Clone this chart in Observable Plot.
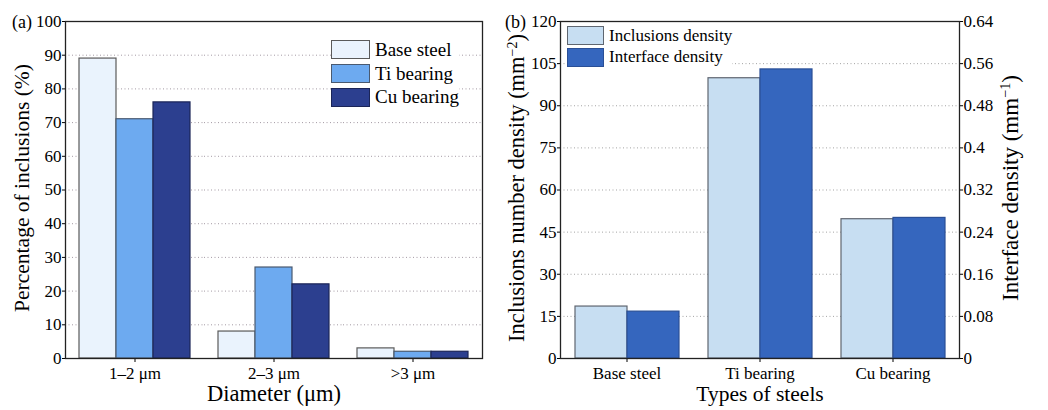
<!DOCTYPE html>
<html><head><meta charset="utf-8">
<script src="https://cdn.jsdelivr.net/npm/d3@7"></script>
<script src="https://cdn.jsdelivr.net/npm/@observablehq/plot@0.6"></script>
<style>
body{margin:0;background:#fff;font-family:"Liberation Serif","Times New Roman","DejaVu Serif",serif;}
#wrap{position:relative;width:1048px;height:410px;overflow:hidden;}
.panel{position:absolute;top:0;}
.legend{position:absolute;color:#000;background:#fff;}
.legend .row{display:flex;align-items:center;}
.sw{box-sizing:border-box;border:1.3px solid #555;margin-right:5px;}
</style></head><body><div id="wrap"></div>
<script>
// ---- Panel (a) data
const diameters = ["1–2 μm", "2–3 μm", ">3 μm"];
const seriesA = ["Base steel", "Ti bearing", "Cu bearing"];
const baseSteel = [89, 8, 3];
const tiBearing = [71, 27, 2];
const cuBearing = [76, 22, 2];
const percentTicks = [0, 10, 20, 30, 40, 50, 60, 70, 80, 90, 100];
const colorsA = ["#EAF3FD", "#6DAAF0", "#2C3F8F"];
const strokesA = ["#5a5a5a", "#4a5a70", "#1b2558"];

// ---- Panel (b) data
const steels = ["Base steel", "Ti bearing", "Cu bearing"];
const seriesB = ["Inclusions density", "Interface density"];
const inclusionsDensity = [18.5, 99.8, 49.6];
const interfaceDensity = [0.089, 0.549, 0.267];
const leftTicks = [0, 15, 30, 45, 60, 75, 90, 105, 120];
const rightTickLabels = ["0", "0.08", "0.16", "0.24", "0.32", "0.4", "0.48", "0.56", "0.64"];
const leftMax = 120, rightMax = 0.64;
const colorsB = ["#C7DEF2", "#3566BE"];
const strokesB = ["#5f6670", "#2a4f96"];

const FONT = '"Liberation Serif", "Times New Roman", "DejaVu Serif", serif';
const wrap = document.getElementById("wrap");

// tables
const valsA = [baseSteel, tiBearing, cuBearing];
const tablesA = seriesA.map((s, si) => diameters.map((d, i) => ({diameter: d, series: s, value: valsA[si][i]})));
const tableInc = steels.map((s, i) => ({steel: s, series: seriesB[0], value: inclusionsDensity[i]}));
const tableInt = steels.map((s, i) => ({steel: s, series: seriesB[1], value: interfaceDensity[i] * leftMax / rightMax}));

function addText(svg, {x, y, rotate = 0, size = 20, parts, anchor = "middle"}) {
  const t = d3.select(svg).append("text")
    .attr("transform", `translate(${x},${y}) rotate(${rotate})`)
    .attr("text-anchor", anchor).attr("font-size", size)
    .style("font-family", FONT).attr("fill", "#000");
  parts.forEach(p => {
    const ts = t.append("tspan").text(p.t);
    if (p.sup) ts.attr("baseline-shift", "super").attr("font-size", size * 0.62);
  });
}

// ---- Plot (a)
const plotA = Plot.plot({
  width: 500, height: 410,
  marginLeft: 64, marginRight: 17, marginTop: 21, marginBottom: 52,
  style: {fontFamily: FONT, fontSize: "17px", color: "#000", background: "transparent"},
  fx: {domain: diameters, padding: 0, label: null},
  x: {domain: seriesA, paddingInner: 0, paddingOuter: 0.375, axis: null},
  y: {domain: [0, 100], label: null},
  marks: [
    Plot.gridY(percentTicks.slice(1, -1), {stroke: "#9a8f9a", strokeOpacity: 0.9, strokeDasharray: "1,2.5"}),
    ...seriesA.map((s, si) => Plot.barY(tablesA[si], {fx: "diameter", x: "series", y: "value", fill: colorsA[si], stroke: strokesA[si], strokeWidth: 1.2})),
    Plot.axisY({ticks: percentTicks, tickSize: 3, tickPadding: 1, label: null, fontSize: 17}),
    Plot.axisFx({anchor: "bottom", tickSize: 4, tickPadding: 4, label: null, fontSize: 17}),
    Plot.frame({facet: "super", stroke: "#222", strokeWidth: 1.3})
  ]
});
const divA = document.createElement("div");
divA.className = "panel"; divA.style.left = "0px";
divA.appendChild(plotA); wrap.appendChild(divA);
addText(plotA, {x: 29, y: 188, rotate: -90, size: 21.5, parts: [{t: "Percentage of inclusions (%)"}]});
addText(plotA, {x: 274, y: 401, size: 22.5, parts: [{t: "Diameter (μm)"}]});
addText(plotA, {x: 12, y: 28, size: 18, anchor: "start", parts: [{t: "(a)"}]});

// ---- Plot (b)
const plotB = Plot.plot({
  width: 548, height: 410,
  marginLeft: 59, marginRight: 88, marginTop: 21, marginBottom: 52,
  style: {fontFamily: FONT, fontSize: "17px", color: "#000", background: "transparent"},
  fx: {domain: steels, padding: 0, label: null},
  x: {domain: seriesB, paddingInner: 0, paddingOuter: 0.26, axis: null},
  y: {domain: [0, leftMax], label: null},
  marks: [
    Plot.gridY(leftTicks.slice(1, -1), {stroke: "#9a9a9a", strokeOpacity: 0.9, strokeDasharray: "1,2.5"}),
    Plot.barY(tableInc, {fx: "steel", x: "series", y: "value", fill: colorsB[0], stroke: strokesB[0], strokeWidth: 1.2}),
    Plot.barY(tableInt, {fx: "steel", x: "series", y: "value", fill: colorsB[1], stroke: strokesB[1], strokeWidth: 1.2}),
    Plot.axisY({ticks: leftTicks, tickSize: 3, tickPadding: 1, label: null, fontSize: 17}),
    Plot.axisY({anchor: "right", ticks: leftTicks, tickSize: 3, tickPadding: 1, label: null, fontSize: 17,
      tickFormat: d => rightTickLabels[leftTicks.indexOf(d)]}),
    Plot.axisFx({anchor: "bottom", tickSize: 4, tickPadding: 4, label: null, fontSize: 17}),
    Plot.frame({facet: "super", stroke: "#222", strokeWidth: 1.3})
  ]
});
const divB = document.createElement("div");
divB.className = "panel"; divB.style.left = "500px";
divB.appendChild(plotB); wrap.appendChild(divB);
addText(plotB, {x: 24, y: 188, rotate: -90, size: 22.5, parts: [{t: "Inclusions number density (mm"}, {t: "−2", sup: true}, {t: ")"}]});
addText(plotB, {x: 518, y: 188, rotate: -90, size: 23, parts: [{t: "Interface density (mm"}, {t: "−1", sup: true}, {t: ")"}]});
addText(plotB, {x: 260, y: 401, size: 21.5, parts: [{t: "Types of steels"}]});
addText(plotB, {x: 5, y: 28, size: 18, anchor: "start", parts: [{t: "(b)"}]});

// ---- Legends
function legend(left, top, names, fills, strokes, swW, swH, rowH, size) {
  const L = document.createElement("div");
  L.className = "legend";
  L.style.left = left + "px"; L.style.top = top + "px"; L.style.fontSize = size + "px";
  names.forEach((n, i) => {
    const r = document.createElement("div"); r.className = "row"; r.style.height = rowH + "px";
    const sw = document.createElement("div"); sw.className = "sw";
    sw.style.width = swW + "px"; sw.style.height = swH + "px";
    sw.style.background = fills[i]; sw.style.borderColor = strokes[i];
    const tx = document.createElement("span"); tx.textContent = n;
    r.appendChild(sw); r.appendChild(tx); L.appendChild(r);
  });
  wrap.appendChild(L);
}
legend(331, 38, seriesA, colorsA, strokesA, 39, 19, 23.7, 19);
legend(567, 25, seriesB, colorsB, strokesB, 37, 19, 21.5, 17);
</script></body></html>
